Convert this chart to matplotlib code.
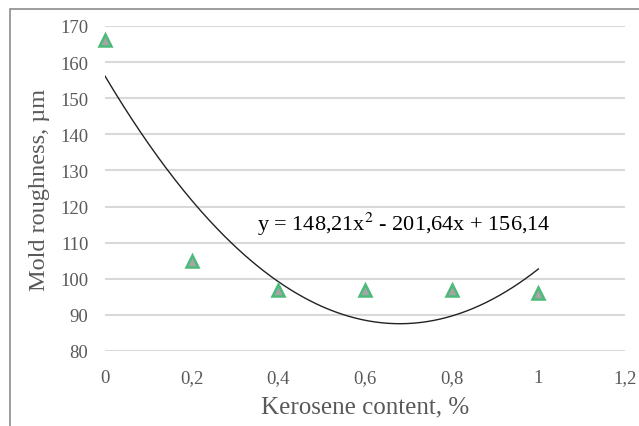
import numpy as np
import matplotlib.pyplot as plt
from matplotlib.patches import Rectangle

kerosene = [0, 0.2, 0.4, 0.6, 0.8, 1.0]
roughness = [166, 105, 97, 97, 97, 96]
trend_coef = [148.21, -201.64, 156.14]
x_ticks = [0, 0.2, 0.4, 0.6, 0.8, 1.0, 1.2]
x_tick_labels = ["0", "0,2", "0,4", "0,6", "0,8", "1", "1,2"]
y_ticks = [80, 90, 100, 110, 120, 130, 140, 150, 160, 170]

plt.rcParams['font.family'] = ['Liberation Serif', 'DejaVu Serif']
plt.rcParams['mathtext.fontset'] = 'stix'

fig = plt.figure(figsize=(6.39, 4.27), dpi=100)
ax = fig.add_axes([105/639, 1-352/427, 520/639, 325/427])

# outer frame (only left and top visible in the reference)
fig.patches.append(Rectangle((10/639, -0.1), 1.2, 1.1 - 10/427, transform=fig.transFigure,
                             fill=False, edgecolor='#8c8c8c', lw=1.2))

ax.set_axisbelow(True)
ax.grid(axis='y', color='#d9d9d9', lw=1.5)
for s in ax.spines.values():
    s.set_visible(False)

xs = np.linspace(0, 1, 200)
ax.plot(xs, np.polyval(trend_coef, xs), color='#222222', lw=1.0)
ax.plot(kerosene, roughness, linestyle='none', marker='^', markersize=8,
        markerfacecolor='#a5a5a5', markeredgecolor='#4cbb7a', markeredgewidth=1.8,
        clip_on=False, zorder=3)

ax.set_xlim(0, 1.2)
ax.set_ylim(80, 170)
ax.set_xticks(x_ticks)
ax.set_xticklabels(x_tick_labels)
ax.set_yticks(y_ticks)
ax.tick_params(length=0, labelsize=13.5, colors='#595959')
ax.tick_params(axis='y', pad=12)
ax.tick_params(axis='x', pad=13)

ax.set_xlabel("Kerosene content, %", fontsize=18, color='#595959', labelpad=7)
ax.set_ylabel("Mold roughness, µm", fontsize=17.5, color='#595959', labelpad=7)

ax.text(0.69, 115.2, "y = 148,21x$^2$ - 201,64x + 156,14", fontsize=16, color='black',
        ha='center', va='center')

fig.savefig("out.png", dpi=100)
